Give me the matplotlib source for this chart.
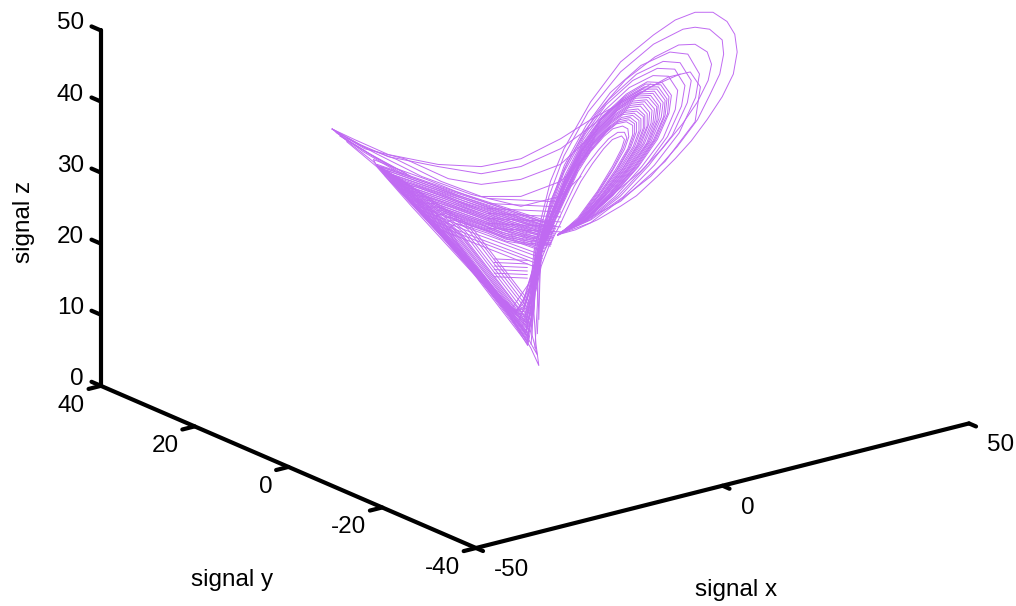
import matplotlib
matplotlib.use('Agg')
import matplotlib.pyplot as plt
from mpl_toolkits.mplot3d import proj3d

plt.rcParams['font.family'] = ['Liberation Sans', 'DejaVu Sans']

# right wing loops, innermost first (depth is estimated)
right_x = [
    [3.1,5.5,8.0,9.9,11.1,11.5,11.1,9.9,8.8,7.4,5.9,4.6,3.3,1.8,0.8,0.1],
    [3.0,5.5,8.0,10.0,11.3,11.8,11.5,10.6,9.4,8.1,6.5,5.0,3.6,2.1,0.9,0.1],
    [2.9,5.5,8.0,10.0,11.5,12.0,11.9,11.2,10.0,8.8,7.1,5.5,4.0,2.4,1.0,0.1],
    [2.9,5.6,8.2,10.3,11.9,12.5,12.5,11.7,10.4,9.1,7.3,5.6,4.0,2.4,1.0,0.1],
    [2.9,5.7,8.3,10.5,12.1,12.8,12.8,12.0,10.7,9.3,7.4,5.6,4.0,2.4,1.0,0.1],
    [2.9,5.7,8.4,10.6,12.3,13.0,13.0,12.2,10.9,9.4,7.4,5.6,4.0,2.3,0.9,0.1],
    [2.9,5.8,8.5,10.8,12.6,13.3,13.3,12.5,11.1,9.6,7.5,5.7,4.0,2.3,0.9,0.0],
    [2.9,5.8,8.6,11.0,12.8,13.6,13.6,12.7,11.3,9.7,7.6,5.7,4.0,2.3,0.9,0.0],
    [2.9,5.9,8.7,11.2,13.0,13.9,13.9,13.0,11.5,9.8,7.7,5.8,4.0,2.3,0.9,0.0],
    [2.9,5.9,8.8,11.3,13.2,14.1,14.1,13.2,11.8,10.0,7.7,5.8,4.0,2.3,0.9,0.0],
    [2.9,6.0,8.9,11.5,13.4,14.4,14.4,13.5,12.0,10.1,7.8,5.8,4.0,2.2,0.9,0.0],
    [2.9,6.0,9.0,11.6,13.6,14.6,14.7,13.8,12.2,10.2,7.9,5.8,3.9,2.2,0.9,0.0],
    [2.9,6.0,9.1,11.8,13.8,14.9,15.0,14.1,12.4,10.4,8.0,5.9,3.9,2.2,0.8,0.0],
    [2.9,6.1,9.2,11.9,14.0,15.1,15.3,14.3,12.6,10.5,8.0,5.9,3.9,2.2,0.8,0.0],
    [2.9,6.1,9.3,12.1,14.3,15.4,15.6,14.6,12.9,10.7,8.1,5.9,3.9,2.2,0.8,0.0],
    [2.9,6.2,9.4,12.2,14.5,15.6,15.8,14.8,13.1,10.8,8.2,5.9,3.9,2.2,0.8,-0.1],
    [2.9,6.3,9.5,12.4,14.7,15.9,16.1,15.1,13.3,11.0,8.3,6.0,3.9,2.1,0.8,-0.1],
    [2.9,6.3,9.6,12.6,14.9,16.2,16.4,15.3,13.5,11.1,8.3,6.0,3.9,2.1,0.8,-0.1],
    [2.9,6.4,9.7,12.8,15.1,16.5,16.7,15.6,13.8,11.3,8.4,6.1,3.9,2.1,0.7,-0.1],
    [2.9,6.4,9.8,12.9,15.3,16.7,16.9,15.8,14.0,11.4,8.5,6.1,3.9,2.1,0.7,-0.1],
    [2.9,6.5,9.9,13.1,15.5,17.0,17.2,16.1,14.2,11.6,8.6,6.1,3.9,2.1,0.7,-0.1],
    [2.9,6.5,10.0,13.2,15.7,17.2,17.5,16.3,14.4,11.7,8.7,6.1,3.9,2.1,0.7,-0.1],
    [2.9,6.7,10.3,13.7,16.4,18.0,18.3,17.1,15.1,12.1,8.9,6.2,3.9,2.0,0.7,-0.2],
    [2.9,6.8,10.6,14.2,17.0,18.8,19.2,17.9,15.7,12.5,9.1,6.3,3.8,2.0,0.6,-0.2],
    [2.9,7.0,10.9,14.6,17.6,19.5,20.0,18.6,16.4,13.0,9.4,6.4,3.8,1.9,0.6,-0.2],
    [2.9,7.2,11.3,15.3,18.5,20.6,21.1,19.6,17.3,13.6,9.7,6.6,3.8,1.9,0.5,-0.3],
    [2.9,6.5,10.1,13.5,16.3,18.9,20.8,22.2,22.6,22.1,20.5,18.4,15.4,11.6,7.8,4.2,2.0,0.8,-0.1],
    [2.9,7.1,11.0,14.8,18.2,20.8,22.4,23.7,24.2,24.0,22.4,20.5,19.0,15.2,11.0,6.8,3.7,1.8,0.5,-0.3],
    [2.9,5.2,8.0,11.0,13.0,15.7,18.0,20.0,22.1,24.0,25.4,25.9,25.6,24.6,22.8,20.5,18.0,15.2,11.0,7.1,3.7,2.0,0.8,-0.1,-0.5],
]
right_y = [
    [-1.9,-3.4,-4.9,-6.1,-6.8,-7.0,-6.8,-6.1,-5.4,-4.5,-3.6,-2.8,-2.0,-1.1,-0.5,-0.1],
    [-1.8,-3.4,-4.9,-6.1,-6.9,-7.2,-7.0,-6.5,-5.8,-5.0,-4.0,-3.1,-2.2,-1.3,-0.6,-0.1],
    [-1.8,-3.4,-4.9,-6.1,-7.0,-7.4,-7.3,-6.9,-6.1,-5.4,-4.4,-3.4,-2.5,-1.5,-0.6,-0.1],
    [-1.8,-3.4,-5.0,-6.3,-7.3,-7.7,-7.7,-7.2,-6.4,-5.6,-4.5,-3.4,-2.5,-1.5,-0.6,-0.1],
    [-1.8,-3.5,-5.1,-6.4,-7.4,-7.8,-7.8,-7.4,-6.6,-5.7,-4.5,-3.4,-2.5,-1.5,-0.6,-0.1],
    [-1.8,-3.5,-5.1,-6.5,-7.5,-8.0,-8.0,-7.5,-6.7,-5.8,-4.5,-3.4,-2.5,-1.4,-0.6,-0.1],
    [-1.8,-3.6,-5.2,-6.6,-7.7,-8.2,-8.2,-7.7,-6.8,-5.9,-4.6,-3.5,-2.5,-1.4,-0.6,0.0],
    [-1.8,-3.6,-5.3,-6.7,-7.8,-8.3,-8.3,-7.8,-6.9,-5.9,-4.7,-3.5,-2.5,-1.4,-0.6,0.0],
    [-1.8,-3.6,-5.3,-6.9,-8.0,-8.5,-8.5,-8.0,-7.0,-6.0,-4.7,-3.6,-2.5,-1.4,-0.6,0.0],
    [-1.8,-3.6,-5.4,-6.9,-8.1,-8.6,-8.6,-8.1,-7.2,-6.1,-4.7,-3.6,-2.5,-1.4,-0.6,0.0],
    [-1.8,-3.7,-5.5,-7.0,-8.2,-8.8,-8.8,-8.3,-7.4,-6.2,-4.8,-3.6,-2.5,-1.3,-0.6,0.0],
    [-1.8,-3.7,-5.5,-7.1,-8.3,-8.9,-9.0,-8.5,-7.5,-6.3,-4.8,-3.6,-2.4,-1.3,-0.6,0.0],
    [-1.8,-3.7,-5.6,-7.2,-8.5,-9.1,-9.2,-8.6,-7.6,-6.4,-4.9,-3.6,-2.4,-1.3,-0.5,0.0],
    [-1.8,-3.7,-5.6,-7.3,-8.6,-9.3,-9.4,-8.8,-7.7,-6.4,-4.9,-3.6,-2.4,-1.3,-0.5,0.0],
    [-1.8,-3.7,-5.7,-7.4,-8.8,-9.4,-9.6,-8.9,-7.9,-6.6,-5.0,-3.6,-2.4,-1.3,-0.5,0.0],
    [-1.8,-3.8,-5.8,-7.5,-8.9,-9.6,-9.7,-9.1,-8.0,-6.6,-5.0,-3.6,-2.4,-1.3,-0.5,0.1],
    [-1.8,-3.9,-5.8,-7.6,-9.0,-9.7,-9.9,-9.3,-8.2,-6.7,-5.1,-3.7,-2.4,-1.3,-0.5,0.1],
    [-1.8,-3.9,-5.9,-7.7,-9.1,-9.9,-10.1,-9.4,-8.3,-6.8,-5.1,-3.7,-2.4,-1.3,-0.5,0.1],
    [-1.8,-3.9,-5.9,-7.8,-9.3,-10.1,-10.2,-9.6,-8.5,-6.9,-5.1,-3.7,-2.4,-1.3,-0.4,0.1],
    [-1.8,-3.9,-6.0,-7.9,-9.4,-10.2,-10.4,-9.7,-8.6,-7.0,-5.2,-3.7,-2.4,-1.3,-0.4,0.1],
    [-1.8,-4.0,-6.1,-8.0,-9.5,-10.4,-10.5,-9.9,-8.7,-7.1,-5.3,-3.7,-2.4,-1.3,-0.4,0.1],
    [-1.8,-4.0,-6.1,-8.1,-9.6,-10.5,-10.7,-10.0,-8.8,-7.2,-5.3,-3.7,-2.4,-1.3,-0.4,0.1],
    [-1.8,-4.1,-6.3,-8.4,-10.1,-11.0,-11.2,-10.5,-9.3,-7.4,-5.5,-3.8,-2.4,-1.2,-0.4,0.1],
    [-1.8,-4.2,-6.5,-8.7,-10.4,-11.5,-11.8,-11.0,-9.6,-7.7,-5.6,-3.9,-2.3,-1.2,-0.4,0.1],
    [-1.8,-4.3,-6.7,-8.9,-10.8,-12.0,-12.3,-11.4,-10.1,-8.0,-5.8,-3.9,-2.3,-1.2,-0.4,0.1],
    [-1.8,-4.4,-6.9,-9.4,-11.3,-12.6,-12.9,-12.0,-10.6,-8.3,-5.9,-4.0,-2.3,-1.2,-0.3,0.2],
    [-1.8,-4.0,-6.2,-8.3,-10.0,-11.6,-12.8,-13.6,-13.9,-13.5,-12.6,-11.3,-9.4,-7.1,-4.8,-2.6,-1.2,-0.5,0.1],
    [-1.8,-4.4,-6.7,-9.1,-11.2,-12.8,-13.7,-14.5,-14.8,-14.7,-13.7,-12.6,-11.6,-9.3,-6.7,-4.2,-2.3,-1.1,-0.3,0.2],
    [-1.8,-3.2,-4.9,-6.7,-8.0,-9.6,-11.0,-12.3,-13.5,-14.7,-15.6,-15.9,-15.7,-15.1,-14.0,-12.6,-11.0,-9.3,-6.7,-4.4,-2.3,-1.2,-0.5,0.1,0.3],
]
right_z = [
    [23.9,26.3,30.0,33.5,36.0,37.3,37.8,37.3,36.0,33.9,31.4,28.6,25.5,22.3,19.5,16.0],
    [23.9,26.1,29.8,33.2,36.0,37.5,38.3,38.3,37.4,35.8,33.5,30.7,27.4,23.9,20.8,16.5],
    [23.9,26.0,29.6,33.0,35.9,37.7,38.8,39.2,38.8,37.7,35.6,32.8,29.3,25.5,22.0,17.0],
    [23.9,26.0,29.6,33.0,36.0,38.0,39.3,39.8,39.5,38.3,36.1,33.2,29.6,25.7,22.0,17.0],
    [23.9,26.0,29.6,33.0,36.1,38.2,39.5,40.1,39.8,38.6,36.4,33.4,29.7,25.8,22.0,17.0],
    [23.9,26.0,29.6,33.1,36.2,38.4,39.7,40.4,40.1,38.9,36.6,33.6,29.8,25.8,22.1,17.0],
    [23.9,26.0,29.5,33.1,36.3,38.5,40.0,40.7,40.4,39.2,36.9,33.8,30.0,25.9,22.1,17.1],
    [23.9,26.0,29.5,33.1,36.3,38.7,40.2,41.0,40.8,39.5,37.1,34.0,30.1,26.0,22.1,17.1],
    [23.9,26.0,29.5,33.2,36.4,38.9,40.5,41.3,41.1,39.8,37.4,34.2,30.3,26.1,22.2,17.1],
    [23.9,26.0,29.5,33.2,36.5,39.0,40.7,41.6,41.4,40.1,37.6,34.4,30.4,26.1,22.2,17.1],
    [23.9,26.0,29.5,33.2,36.6,39.2,40.9,42.0,41.8,40.4,37.9,34.6,30.5,26.2,22.2,17.1],
    [23.9,26.0,29.5,33.2,36.6,39.4,41.1,42.3,42.1,40.7,38.1,34.8,30.6,26.3,22.2,17.1],
    [23.9,26.0,29.5,33.2,36.7,39.6,41.4,42.6,42.4,41.0,38.4,35.0,30.8,26.4,22.2,17.1],
    [23.9,26.0,29.5,33.2,36.7,39.7,41.6,42.9,42.7,41.3,38.6,35.2,30.9,26.5,22.2,17.1],
    [23.9,26.0,29.4,33.3,36.8,39.9,41.9,43.2,43.1,41.6,38.9,35.4,31.0,26.6,22.3,17.1],
    [23.9,26.0,29.4,33.3,36.9,40.0,42.1,43.5,43.4,41.9,39.1,35.5,31.2,26.6,22.3,17.1],
    [23.9,26.0,29.4,33.3,37.0,40.2,42.3,43.8,43.7,42.2,39.4,35.7,31.3,26.7,22.3,17.1],
    [23.9,26.0,29.4,33.3,37.0,40.4,42.5,44.1,44.0,42.5,39.6,35.9,31.4,26.8,22.3,17.1],
    [23.9,26.0,29.4,33.4,37.1,40.5,42.8,44.4,44.4,42.8,39.9,36.1,31.6,26.9,22.4,17.1],
    [23.9,26.0,29.4,33.4,37.2,40.7,43.0,44.7,44.7,43.1,40.1,36.3,31.7,26.9,22.4,17.1],
    [23.9,26.0,29.4,33.4,37.3,40.9,43.3,45.0,45.1,43.4,40.4,36.5,31.9,27.0,22.4,17.2],
    [23.9,26.0,29.4,33.4,37.3,41.0,43.5,45.3,45.4,43.7,40.6,36.7,32.0,27.1,22.4,17.2],
    [23.9,26.0,29.3,33.5,37.5,41.5,44.2,46.2,46.3,44.6,41.4,37.3,32.4,27.3,22.5,17.2],
    [23.9,26.0,29.3,33.5,37.7,42.0,44.9,47.2,47.3,45.6,42.2,37.9,32.8,27.6,22.5,17.2],
    [23.9,26.0,29.3,33.6,37.9,42.5,45.6,48.1,48.3,46.5,42.9,38.5,33.2,27.8,22.6,17.2],
    [23.9,26.0,29.2,33.7,38.2,43.2,46.5,49.3,49.6,47.7,43.9,39.3,33.7,28.1,22.7,17.3],
    [23.9,25.9,29.7,32.8,36.0,39.5,42.6,45.6,47.9,49.6,50.7,50.6,48.9,45.7,40.9,34.2,28.6,23.7,18.8],
    [23.9,25.6,28.8,32.1,36.3,40.1,43.5,46.5,49.3,51.3,52.8,53.1,52.8,50.7,46.8,41.2,35.0,29.3,23.7,18.8],
    [23.9,24.6,26.0,27.9,29.4,32.1,34.6,37.1,40.1,43.3,46.5,49.6,52.1,53.9,55.2,55.2,54.1,52.0,48.2,42.6,36.0,31.4,26.2,21.6,17.4],
]

# left wing loops, innermost first
left_x = [
    [2.0,-0.9,-3.7,-6.0,-8.2,-10.1,-11.0,-9.9,-7.9,-5.6,-4.0,-2.4,-1.5,-0.9,-0.3,0.5],
    [2.0,-0.9,-3.8,-6.2,-8.5,-10.6,-11.6,-10.5,-8.4,-6.0,-4.2,-2.5,-1.5,-0.9,-0.3,0.5],
    [2.1,-0.9,-3.9,-6.5,-8.9,-11.0,-12.2,-11.1,-8.9,-6.4,-4.4,-2.5,-1.4,-0.8,-0.3,0.5],
    [2.1,-0.9,-4.0,-6.7,-9.2,-11.5,-12.7,-11.8,-9.4,-6.8,-4.6,-2.6,-1.4,-0.8,-0.2,0.6],
    [2.2,-1.0,-4.2,-7.0,-9.6,-11.9,-13.3,-12.4,-10.0,-7.1,-4.7,-2.6,-1.4,-0.8,-0.2,0.6],
    [2.2,-1.0,-4.3,-7.2,-9.9,-12.4,-13.9,-13.0,-10.5,-7.5,-4.9,-2.7,-1.3,-0.7,-0.2,0.6],
    [2.3,-1.0,-4.4,-7.5,-10.3,-12.8,-14.5,-13.6,-11.0,-7.9,-5.1,-2.7,-1.3,-0.7,-0.2,0.6],
    [2.3,-1.0,-4.5,-7.7,-10.6,-13.3,-15.1,-14.2,-11.5,-8.3,-5.3,-2.8,-1.2,-0.6,-0.1,0.6],
    [2.3,-1.0,-4.6,-8.0,-10.9,-13.7,-15.7,-14.8,-12.0,-8.7,-5.5,-2.8,-1.2,-0.6,-0.1,0.6],
    [2.4,-1.0,-4.7,-8.2,-11.3,-14.2,-16.2,-15.5,-12.5,-9.0,-5.7,-2.9,-1.2,-0.6,-0.1,0.7],
    [2.4,-1.0,-4.8,-8.5,-11.6,-14.7,-16.8,-16.1,-13.1,-9.4,-5.9,-2.9,-1.1,-0.5,-0.1,0.7],
    [2.5,-1.0,-5.0,-8.7,-12.0,-15.1,-17.4,-16.7,-13.6,-9.8,-6.0,-3.0,-1.1,-0.5,0.0,0.7],
    [2.5,-1.0,-5.1,-9.0,-12.3,-15.6,-18.0,-17.3,-14.1,-10.2,-6.2,-3.1,-1.1,-0.5,0.0,0.7],
    [2.5,-1.1,-5.2,-9.2,-12.6,-16.0,-18.6,-17.9,-14.6,-10.6,-6.4,-3.1,-1.0,-0.4,0.0,0.7],
    [2.6,-1.1,-5.3,-9.4,-13.0,-16.5,-19.1,-18.5,-15.1,-11.0,-6.6,-3.2,-1.0,-0.4,0.0,0.8],
    [2.6,-1.1,-5.4,-9.7,-13.3,-16.9,-19.7,-19.2,-15.6,-11.4,-6.8,-3.2,-1.0,-0.4,0.1,0.8],
    [2.7,-1.1,-5.6,-10.1,-13.9,-17.7,-20.7,-20.2,-16.5,-12.0,-7.1,-3.3,-0.9,-0.3,0.1,0.8],
]
left_y = [
    [-1.2,0.6,2.3,3.7,5.0,6.2,6.7,6.1,4.8,3.4,2.5,1.5,0.9,0.6,0.2,-0.3],
    [-1.2,0.6,2.3,3.8,5.2,6.5,7.1,6.4,5.1,3.7,2.6,1.5,0.9,0.6,0.2,-0.3],
    [-1.3,0.6,2.4,4.0,5.5,6.7,7.5,6.8,5.5,3.9,2.7,1.5,0.9,0.5,0.2,-0.3],
    [-1.3,0.6,2.5,4.1,5.6,7.0,7.8,7.2,5.8,4.2,2.8,1.6,0.9,0.5,0.1,-0.4],
    [-1.3,0.6,2.6,4.3,5.9,7.3,8.2,7.6,6.1,4.4,2.9,1.6,0.9,0.5,0.1,-0.4],
    [-1.3,0.6,2.6,4.4,6.1,7.6,8.5,8.0,6.4,4.6,3.0,1.7,0.8,0.4,0.1,-0.4],
    [-1.4,0.6,2.7,4.6,6.3,7.8,8.9,8.3,6.7,4.8,3.1,1.7,0.8,0.4,0.1,-0.4],
    [-1.4,0.6,2.8,4.7,6.5,8.2,9.3,8.7,7.0,5.1,3.2,1.7,0.7,0.4,0.1,-0.4],
    [-1.4,0.6,2.8,4.9,6.7,8.4,9.6,9.1,7.4,5.3,3.4,1.7,0.7,0.4,0.1,-0.4],
    [-1.5,0.6,2.9,5.0,6.9,8.7,9.9,9.5,7.7,5.5,3.5,1.8,0.7,0.4,0.1,-0.4],
    [-1.5,0.6,2.9,5.2,7.1,9.0,10.3,9.9,8.0,5.8,3.6,1.8,0.7,0.3,0.1,-0.4],
    [-1.5,0.6,3.1,5.3,7.4,9.3,10.7,10.2,8.3,6.0,3.7,1.8,0.7,0.3,0.0,-0.4],
    [-1.5,0.6,3.1,5.5,7.5,9.6,11.0,10.6,8.6,6.3,3.8,1.9,0.7,0.3,0.0,-0.4],
    [-1.5,0.7,3.2,5.6,7.7,9.8,11.4,11.0,8.9,6.5,3.9,1.9,0.6,0.2,0.0,-0.4],
    [-1.6,0.7,3.2,5.8,8.0,10.1,11.7,11.3,9.3,6.7,4.0,2.0,0.6,0.2,0.0,-0.5],
    [-1.6,0.7,3.3,5.9,8.2,10.4,12.1,11.8,9.6,7.0,4.2,2.0,0.6,0.2,-0.1,-0.5],
    [-1.7,0.7,3.4,6.2,8.5,10.9,12.7,12.4,10.1,7.4,4.4,2.0,0.6,0.2,-0.1,-0.5],
]
left_z = [
    [22.3,22.5,23.0,24.1,24.9,25.5,24.9,22.7,19.9,16.9,14.8,13.2,14.6,16.7,19.0,21.6],
    [22.5,22.7,23.3,24.5,25.3,26.0,25.5,23.3,20.4,17.3,15.0,13.2,14.2,16.4,18.9,21.6],
    [22.6,23.0,23.6,24.8,25.7,26.4,26.1,24.0,21.0,17.7,15.1,13.1,13.8,16.1,18.7,21.6],
    [22.8,23.2,23.9,25.2,26.1,26.9,26.6,24.6,21.5,18.1,15.3,13.1,13.5,15.8,18.6,21.6],
    [23.0,23.5,24.2,25.5,26.5,27.3,27.2,25.2,22.1,18.5,15.5,13.0,13.1,15.5,18.4,21.6],
    [23.1,23.7,24.6,25.9,26.9,27.8,27.8,25.9,22.6,19.0,15.6,13.0,12.7,15.2,18.3,21.6],
    [23.3,23.9,24.9,26.2,27.3,28.3,28.4,26.5,23.2,19.4,15.8,13.0,12.3,14.9,18.2,21.6],
    [23.5,24.2,25.2,26.6,27.8,28.7,28.9,27.2,23.7,19.8,16.0,12.9,11.9,14.6,18.0,21.6],
    [23.6,24.4,25.5,26.9,28.2,29.2,29.5,27.8,24.3,20.2,16.1,12.9,11.6,14.3,17.9,21.6],
    [23.8,24.7,25.8,27.3,28.6,29.7,30.1,28.4,24.8,20.6,16.3,12.8,11.2,14.0,17.8,21.6],
    [24.0,24.9,26.1,27.6,29.0,30.1,30.7,29.1,25.4,21.0,16.5,12.8,10.8,13.8,17.6,21.6],
    [24.1,25.1,26.4,28.0,29.4,30.6,31.2,29.7,25.9,21.4,16.6,12.7,10.4,13.5,17.5,21.6],
    [24.3,25.4,26.7,28.3,29.8,31.0,31.8,30.3,26.5,21.8,16.8,12.7,10.1,13.2,17.3,21.6],
    [24.5,25.6,27.1,28.7,30.2,31.5,32.4,31.0,27.0,22.2,17.0,12.7,9.7,12.9,17.2,21.6],
    [24.7,25.9,27.4,29.1,30.6,32.0,33.0,31.6,27.5,22.6,17.2,12.6,9.3,12.6,17.1,21.6],
    [24.8,26.1,27.7,29.4,31.0,32.4,33.5,32.2,28.1,23.0,17.3,12.6,8.9,12.3,16.9,21.6],
    [25.1,26.5,28.2,30.0,31.7,33.2,34.5,33.5,29.0,23.7,17.6,12.5,8.3,11.8,16.7,21.6],
]

# sparse strands: from the left cusp over to the right wing, and the lower edge
arc_x = [
    [-26.0,-23.1,-18.8,-12.4,-6.9,-1.8,3.3,7.1,10.6,14.2,17.1,19.9,21.2,20.5,16.7,11.0,2.9],
    [-26.0,-21.8,-16.7,-11.1,-6.9,-1.8,3.3,7.1,11.0,14.8,18.6],
    [-26.0,-22.4,-18.8,-12.4,-6.9,-1.8,3.3,7.1,11.0,14.8],
    [-25.0,-21.6,-17.7,-12.0,-6.9,-1.8,3.3,6.5,9.7],
    [-24.1,-20.3,-14.5,-8.2,-1.8,3.3,5.9],
    [-26.0,-23.5,-20.7,-17.7,-14.5,-12.0,-9.4,-6.9,-4.7,-3.1,-1.8,-0.5,0.5,0.1,-0.1,0.1],
    [-24.1,-20.3,-15.8,-10.7,-5.6,-1.8,0.3,-0.4,-0.5,0.3],
]
arc_y = [
    [15.9,14.2,11.5,7.6,4.2,1.1,-2.0,-4.4,-6.5,-8.7,-10.5,-12.2,-13.0,-12.6,-10.2,-6.7,-1.8],
    [15.9,13.4,10.2,6.8,4.2,1.1,-2.0,-4.4,-6.7,-9.1,-11.4],
    [15.9,13.7,11.5,7.6,4.2,1.1,-2.0,-4.4,-6.7,-9.1],
    [15.3,13.2,10.9,7.4,4.2,1.1,-2.0,-4.0,-5.9],
    [14.8,12.4,8.9,5.0,1.1,-2.0,-3.6],
    [15.9,14.4,12.7,10.9,8.9,7.4,5.8,4.2,2.9,1.9,1.1,0.3,-0.3,-0.1,0.1,-0.1],
    [14.8,12.4,9.7,6.6,3.4,1.1,-0.2,0.2,0.3,-0.2],
]
arc_z = [
    [38.8,37.3,35.2,33.8,33.5,34.6,37.4,40.1,42.2,44.3,46.1,46.8,44.7,39.8,34.2,28.6,23.9],
    [38.8,36.0,34.6,31.8,31.0,31.7,33.8,37.7,41.9,44.7,46.5],
    [38.8,36.6,34.9,33.5,32.5,33.5,36.0,39.1,42.6,45.1],
    [38.1,36.1,34.5,31.4,29.3,29.3,31.4,34.9,39.1],
    [37.5,35.3,32.1,29.6,27.9,29.3,32.1],
    [38.8,36.6,34.2,30.7,26.9,24.0,20.9,17.6,14.8,12.3,10.3,7.9,5.5,8.6,12.8,18.4],
    [37.0,33.5,27.9,21.8,15.7,11.1,7.0,9.8,14.6,20.2],
]

# short strands that fill the dense left wing: upper band, lower band, tip, junction, cusp
fill_x = [
    [-20.2,-10.5,2.5],[-19.9,-10.4,2.4],[-19.6,-10.3,2.4],[-19.3,-10.1,2.3],[-19.1,-10.0,2.2],[-18.8,-9.9,2.1],
    [-18.5,-9.8,2.1],[-18.2,-9.6,2.0],[-18.0,-9.5,1.9],[-17.7,-9.4,1.8],[-17.5,-9.3,1.8],[-17.2,-9.1,1.7],
    [-16.9,-9.0,1.6],[-16.6,-8.9,1.5],[-16.4,-8.8,1.5],[-16.1,-8.6,1.4],[-15.8,-8.5,1.3],[-15.5,-8.4,1.2],
    [-15.3,-8.3,1.2],[-14.7,-8.0,1.0],[-14.2,-7.8,0.9],[-13.6,-7.5,0.7],[-13.1,-7.3,0.6],[-12.5,-7.0,0.4],
    [-20.3,-10.7,-0.9],[-20.2,-10.6,-0.9],[-20.0,-10.5,-0.9],[-19.9,-10.4,-0.8],[-19.7,-10.2,-0.8],[-19.6,-10.1,-0.8],
    [-19.4,-10.0,-0.8],[-19.3,-9.9,-0.7],[-19.1,-9.8,-0.7],[-19.0,-9.7,-0.7],[-18.8,-9.5,-0.7],[-18.7,-9.4,-0.6],
    [-18.5,-9.3,-0.6],[-18.2,-9.1,-0.6],[-17.9,-8.9,-0.5],[-17.6,-8.6,-0.5],[-17.3,-8.4,-0.4],[-17.0,-8.2,-0.4],
    [1.0,-0.8,-3.0],[0.8,-0.7,-2.5],[0.6,-0.6,-2.0],[0.4,-0.4,-1.6],[0.3,-0.3,-1.2],
    [0.1,-0.2,-0.9],[0.0,-0.1,-0.5],[0.4,0.3,0.0],[0.6,0.5,0.3],[0.8,0.6,0.5],
    [-6.0,3.3],[-6.0,3.3],[-6.0,3.3],[-6.0,3.3],[-6.0,3.3],[-6.0,3.3],[-6.0,3.3],
    [-5.2,-1.0],[-5.2,-1.0],[-5.2,-1.0],[-5.2,-1.0],[-5.2,-1.0],[-5.2,-1.0],
    [-26.0,-22.0,-18.0],[-25.5,-21.5,-17.0],[-25.0,-21.0,-16.5],[-24.5,-20.5,-16.0],
]
fill_y = [
    [12.4,6.4,-1.5],[12.2,6.4,-1.5],[12.0,6.3,-1.5],[11.8,6.2,-1.4],[11.7,6.1,-1.3],[11.5,6.1,-1.3],
    [11.3,6.0,-1.3],[11.2,5.9,-1.2],[11.0,5.8,-1.2],[10.9,5.8,-1.1],[10.7,5.7,-1.1],[10.5,5.6,-1.0],
    [10.4,5.5,-1.0],[10.2,5.5,-0.9],[10.1,5.4,-0.9],[9.9,5.3,-0.9],[9.7,5.2,-0.8],[9.5,5.1,-0.7],
    [9.4,5.1,-0.7],[9.0,4.9,-0.6],[8.7,4.8,-0.6],[8.3,4.6,-0.4],[8.0,4.5,-0.4],[7.7,4.3,-0.2],
    [12.4,6.6,0.6],[12.4,6.5,0.6],[12.3,6.4,0.6],[12.2,6.4,0.5],[12.1,6.3,0.5],[12.0,6.2,0.5],
    [11.9,6.1,0.5],[11.8,6.1,0.4],[11.7,6.0,0.4],[11.6,5.9,0.4],[11.5,5.8,0.4],[11.5,5.8,0.4],
    [11.3,5.7,0.4],[11.2,5.6,0.4],[11.0,5.5,0.3],[10.8,5.3,0.3],[10.6,5.1,0.2],[10.4,5.0,0.2],
    [-0.6,0.5,1.8],[-0.5,0.4,1.5],[-0.4,0.4,1.2],[-0.2,0.2,1.0],[-0.2,0.2,0.7],
    [-0.1,0.1,0.6],[0.0,0.1,0.3],[-0.2,-0.2,0.0],[-0.4,-0.3,-0.2],[-0.5,-0.4,-0.3],
    [3.7,-2.0],[3.7,-2.0],[3.7,-2.0],[3.7,-2.0],[3.7,-2.0],[3.7,-2.0],[3.7,-2.0],
    [3.2,0.6],[3.2,0.6],[3.2,0.6],[3.2,0.6],[3.2,0.6],[3.2,0.6],
    [15.9,13.5,11.0],[15.6,13.2,10.4],[15.3,12.9,10.1],[15.0,12.6,9.8],
]
fill_z = [
    [33.8,30.1,25.5],[33.5,29.9,25.3],[33.2,29.6,25.1],[32.8,29.3,24.8],[32.5,29.0,24.6],[32.2,28.7,24.4],
    [31.9,28.5,24.2],[31.5,28.2,23.9],[31.2,27.9,23.7],[30.9,27.6,23.5],[30.6,27.4,23.3],[30.3,27.1,23.0],
    [30.0,26.8,22.8],[29.6,26.5,22.6],[29.3,26.3,22.4],[29.0,26.0,22.1],[28.7,25.7,21.9],[28.3,25.4,21.7],
    [28.0,25.2,21.5],[27.4,24.6,21.0],[26.8,24.1,20.6],[26.1,23.5,20.1],[25.5,23.0,19.7],[24.8,22.4,19.2],
    [33.8,22.5,8.5],[33.7,22.6,8.8],[33.6,22.7,9.0],[33.5,22.9,9.3],[33.4,23.0,9.5],[33.3,23.1,9.8],
    [33.2,23.2,10.0],[33.1,23.4,10.3],[33.0,23.5,10.5],[32.9,23.6,10.8],[32.8,23.7,11.0],[32.7,23.8,11.3],
    [32.6,23.9,11.5],[32.4,24.2,12.0],[32.2,24.4,12.5],[32.0,24.7,13.0],[31.8,24.9,13.5],[31.6,25.1,14.0],
    [22.0,17.0,13.5],[22.0,16.5,12.8],[22.0,16.0,12.0],[22.0,15.5,11.0],[22.0,15.0,10.0],
    [22.0,14.5,9.0],[22.0,14.0,8.5],[20.0,14.0,8.0],[21.0,15.0,10.0],[22.0,17.0,12.0],
    [29.0,28.5],[28.3,27.8],[27.6,27.1],[26.9,26.4],[26.2,25.7],[25.5,25.0],[24.8,24.3],
    [20.5,20.3],[20.0,19.8],[19.5,19.3],[19.0,18.8],[18.5,18.3],[18.0,17.8],
    [38.8,35.6,33.0],[38.3,35.5,32.5],[37.8,35.2,32.5],[37.5,34.8,32.2],
]

x_ticks = [-50, 0, 50]
y_ticks = [-40, -20, 0, 20, 40]
z_ticks = [0, 10, 20, 30, 40, 50]

fig = plt.figure(figsize=(10.16, 6.06), dpi=100)
ax = fig.add_axes([0.2, 0.0, 6.06 / 10.16, 1.0], projection='3d', proj_type='ortho')
ax.set_box_aspect((623, 620, 378))
ax.view_init(elev=19.3, azim=-127.4)
ax.set_xlim(-50, 50, view_margin=0)
ax.set_ylim(-40, 40, view_margin=0)
ax.set_zlim(0, 50, view_margin=0)
ax.set_axis_off()


def to_px(x, y, z):
    X, Y, _ = proj3d.proj_transform(x, y, z, ax.get_proj())
    return ax.transData.transform((X, Y))


# fit the box to the figure: corner (-50,-40,0) at pixel (476,58), x axis 493 px wide
fig.canvas.draw()
side = 6.06 * 100
p0 = to_px(-50, -40, 0)
p1 = to_px(50, -40, 0)
scale = 493 / (p1[0] - p0[0])
new_side = side * scale
pos = ax.get_position()
left_px = 476 - (p0[0] - pos.x0 * 1016) * scale
bottom_px = 58 - (p0[1] - pos.y0 * 606) * scale
ax.set_position([left_px / 1016, bottom_px / 606, new_side / 1016, new_side / 606])
fig.canvas.draw()

wing = dict(color='#C06AF2', lw=0.7, clip_on=False)
for xs, ys, zs in zip(right_x + left_x + arc_x + fill_x, right_y + left_y + arc_y + fill_y,
                      right_z + left_z + arc_z + fill_z):
    ax.plot(xs, ys, zs, **wing)

axis = dict(color='black', lw=3.0, clip_on=False, solid_capstyle='round')
ax.plot([-50, 50], [-40, -40], [0, 0], **axis)
ax.plot([-50, -50], [-40, 40], [0, 0], **axis)
ax.plot([-50, -50], [40, 40], [0, 50], **axis)

for t in x_ticks:
    ax.plot([t, t], [-40, -41.5], [0, 0], **axis)
for t in y_ticks:
    ax.plot([-50, -52.5], [t, t], [0, 0], **axis)
for t in z_ticks:
    ax.plot([-50, -50], [40, 42], [t, t], **axis)

label = dict(fontsize=17.5, textcoords='offset pixels', annotation_clip=False, color='black')
for t in x_ticks:
    ax.annotate(str(t), xy=proj3d.proj_transform(t, -40, 0, ax.get_proj())[:2],
                xytext=(18, -22), ha='left', va='center', **label)
for t in y_ticks:
    ax.annotate(str(t), xy=proj3d.proj_transform(-50, t, 0, ax.get_proj())[:2],
                xytext=(-16, -20), ha='right', va='center', **label)
for t in z_ticks:
    ax.annotate(str(t), xy=proj3d.proj_transform(-50, 40, t, ax.get_proj())[:2],
                xytext=(-17, 7), ha='right', va='center', **label)

fig.text(736 / 1016, 1 - 590 / 606, 'signal x', fontsize=17.5, ha='center', va='center')
fig.text(232 / 1016, 1 - 580 / 606, 'signal y', fontsize=17.5, ha='center', va='center')
fig.text(24 / 1016, 1 - 222 / 606, 'signal z', fontsize=17.5, ha='center', va='center', rotation=90)

fig.savefig('out.png', dpi=100)
